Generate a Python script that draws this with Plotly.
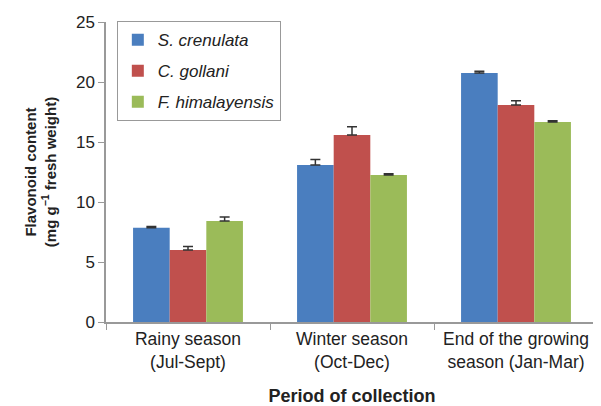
import plotly.graph_objects as go

categories = ["Rainy season<br>(Jul-Sept)", "Winter season<br>(Oct-Dec)", "End of the growing<br>season (Jan-Mar)"]
series_names = ["S. crenulata", "C. gollani", "F. himalayensis"]
s_crenulata = [7.85, 13.08, 20.75]
c_gollani = [6.0, 15.58, 18.08]
f_himalayensis = [8.42, 12.25, 16.67]
err_s = [0.1, 0.47, 0.14]
err_c = [0.3, 0.7, 0.36]
err_f = [0.33, 0.1, 0.1]
colors = ["#4A7EBF", "#C0504D", "#9BBB59"]

fig = go.Figure()
for i, (name, vals, errs) in enumerate(zip(series_names, [s_crenulata, c_gollani, f_himalayensis], [err_s, err_c, err_f])):
    fig.add_trace(go.Bar(
        x=categories, y=vals, name=name, legendgroup=str(i),
        marker=dict(color=colors[i], line=dict(width=0)),
        error_y=dict(type="data", array=errs, visible=True, color="#333333", thickness=1.5, width=5, symmetric=False, arrayminus=[0,0,0]),
    ))

# page body has an 8px default margin, so the figure is 8px smaller on each axis
fig.update_layout(
    width=593, height=398,
    margin=dict(l=98, r=3, t=14, b=84),
    paper_bgcolor="white", plot_bgcolor="white",
    font=dict(family="Liberation Sans, Arial, sans-serif", color="#222222"),
    barmode="group", bargap=0.33, bargroupgap=0,
    legend=dict(x=0.022, y=1.003, xanchor="left", yanchor="top",
                bordercolor="#999999", borderwidth=1, bgcolor="white",
                font=dict(size=17, style="italic"), traceorder="grouped",
                tracegroupgap=6, itemwidth=30),
    showlegend=True,
)
fig.update_xaxes(showline=True, linecolor="#999999", linewidth=1.5, automargin=False,
                 ticks="outside", tickson="boundaries", ticklen=6, tickcolor="#999999",
                 tickfont=dict(size=17.5), showgrid=False,
                 title=dict(text="<b>Period of collection</b>", font=dict(size=18), standoff=27))
fig.update_yaxes(range=[0, 25], dtick=5, showline=True, linecolor="#999999", linewidth=1.5, automargin=False,
                 ticks="outside", ticklen=6, tickcolor="#999999",
                 tickfont=dict(size=17), showgrid=False, zeroline=False,
                 title=dict(text="<b>Flavonoid content<br>(mg g<sup>−1</sup> fresh weight)</b>", font=dict(size=15), standoff=16))

fig.write_html("out.html")
